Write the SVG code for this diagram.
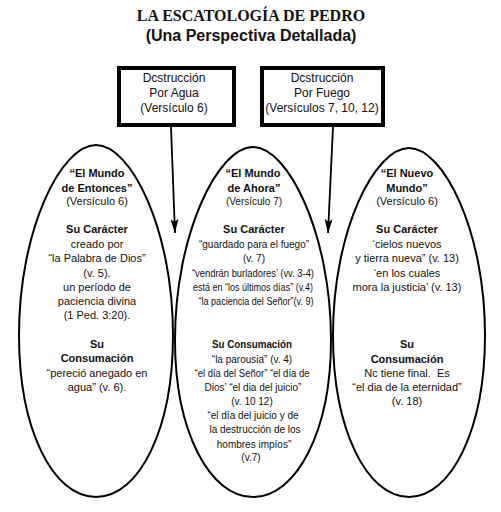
<svg xmlns="http://www.w3.org/2000/svg" width="501" height="512" viewBox="0 0 501 512">
<defs>
<marker id="ah" viewBox="0 0 14 10" refX="14" refY="5" markerWidth="14" markerHeight="10" markerUnits="userSpaceOnUse" orient="auto">
<path d="M0,1 L14,5 L0,9 L3,5 Z" fill="#000"/>
</marker>
<style>
.t{font-family:"Liberation Sans",Arial,sans-serif;fill:#111;text-anchor:middle}
.s{font-size:11px}
.c{font-size:10px}
.b{font-weight:bold}
.box{fill:#fff;stroke:#000;stroke-width:4}
.ell{fill:none;stroke:#000;stroke-width:2}
.bx{font-size:12px}
</style>
</defs>
<rect width="501" height="512" fill="#fff"/>
<g id="title">
<text x="251" y="21" style="font-family:'Liberation Serif','Times New Roman',serif;font-weight:bold;font-size:16px;text-anchor:middle;fill:#111">LA ESCATOLOGÍA DE PEDRO</text>
<text class="t b" x="251" y="41" style="font-size:16px">(Una Perspectiva Detallada)</text>
</g>
<g id="box-agua">
<rect class="box" x="119" y="68" width="115" height="57"/>
<text class="t bx" x="174" y="82">Dcstrucción</text>
<text class="t bx" x="174" y="97">Por Agua</text>
<text class="t bx" x="174" y="112">(Versículo 6)</text>
</g>
<g id="box-fuego">
<rect class="box" x="262" y="68" width="121" height="57"/>
<text class="t bx" x="322" y="82">Dcstrucción</text>
<text class="t bx" x="322" y="97">Por Fuego</text>
<text class="t bx" x="322" y="112">(Versículos 7, 10, 12)</text>
</g>
<g id="connectors">
<line x1="171" y1="127" x2="175" y2="233" stroke="#000" stroke-width="1.8" marker-end="url(#ah)"/>
<line x1="333" y1="127" x2="328" y2="233" stroke="#000" stroke-width="1.8" marker-end="url(#ah)"/>
</g>
<g id="mundo-entonces">
<path class="ell" d="M96,145 C131,145 173,230 173,335 C173,430 139,497 96,497 C53,497 19,430 19,335 C19,230 61,145 96,145 Z"/>
<text class="t s b" x="97" y="177">“El Mundo</text>
<text class="t s b" x="97" y="192">de Entonces”</text>
<text class="t s" x="97" y="205">(Versículo 6)</text>
<text class="t s b" x="97" y="233">Su Carácter</text>
<text class="t s" x="97" y="248">creado por</text>
<text class="t s" x="97" y="262">“la Palabra de Dios”</text>
<text class="t s" x="97" y="277">(v. 5).</text>
<text class="t s" x="97" y="291">un período de</text>
<text class="t s" x="97" y="305">paciencia divina</text>
<text class="t s" x="97" y="319">(1 Ped. 3:20).</text>
<text class="t s b" x="97" y="348">Su</text>
<text class="t s b" x="97" y="362">Consumación</text>
<text class="t s" x="97" y="377">“pereció anegado en</text>
<text class="t s" x="97" y="391">agua” (v. 6).</text>
</g>
<g id="mundo-ahora">
<path class="ell" d="M253,147 C288,147 331,234 331,340 C331,432 296,497 253,497 C210,497 175,432 175,340 C175,234 218,147 253,147 Z"/>
<text class="t s b" x="253" y="177">“El Mundo</text>
<text class="t s b" x="254" y="192">de Ahora”</text>
<text class="t c" x="254" y="205">(Versículo 7)</text>
<text class="t s b" x="254" y="233">Su Carácter</text>
<text class="t c" x="254" y="248">“guardado para el fuego”</text>
<text class="t c" x="254" y="262">(v. 7)</text>
<text class="t c" x="253" y="277" textLength="122" lengthAdjust="spacingAndGlyphs">“vendrán burladores’ (vv. 3-4)</text>
<text class="t c" x="253" y="291" textLength="120" lengthAdjust="spacingAndGlyphs">está en “los últimos días” (v.4)</text>
<text class="t c" x="256" y="305" textLength="115" lengthAdjust="spacingAndGlyphs">“la paciencia del Señor”(v. 9)</text>
<text class="t s b" x="252" y="348" textLength="80" lengthAdjust="spacingAndGlyphs">Su Consumación</text>
<text class="t c" x="252" y="363">“la parousia” (v. 4)</text>
<text class="t c" x="252" y="377" textLength="115" lengthAdjust="spacingAndGlyphs">“el día del Señor” “el día de</text>
<text class="t c" x="253" y="391">Dios’ “el dia del juicio”</text>
<text class="t c" x="252" y="405">(v. 10 12)</text>
<text class="t c" x="253" y="419">“el día del juicio y de</text>
<text class="t c" x="255" y="433">la destrucción de los</text>
<text class="t c" x="254" y="448">hombres impíos”</text>
<text class="t c" x="251" y="461">(v.7)</text>
</g>
<g id="nuevo-mundo">
<path class="ell" d="M409,148 C443,148 485,230 485,335 C485,430 451,497 409,497 C367,497 333,430 333,335 C333,230 375,148 409,148 Z"/>
<text class="t s b" x="407" y="177">“El Nuevo</text>
<text class="t s b" x="407" y="192">Mundo”</text>
<text class="t s" x="407" y="205">(Versículo 6)</text>
<text class="t s b" x="407" y="233">Su Carácter</text>
<text class="t s" x="407" y="248">‘cielos nuevos</text>
<text class="t s" x="407" y="262">y tierra nueva” (v. 13)</text>
<text class="t s" x="407" y="277">‘en los cuales</text>
<text class="t s" x="407" y="291">mora la justicia’ (v. 13)</text>
<text class="t s b" x="407" y="348">Su</text>
<text class="t s b" x="407" y="363">Consumación</text>
<text class="t s" x="407" y="377">Nc tiene final.&#160; Es</text>
<text class="t s" x="407" y="391">“el dia de la eternidad”</text>
<text class="t s" x="407" y="405">(v. 18)</text>
</g>
</svg>
